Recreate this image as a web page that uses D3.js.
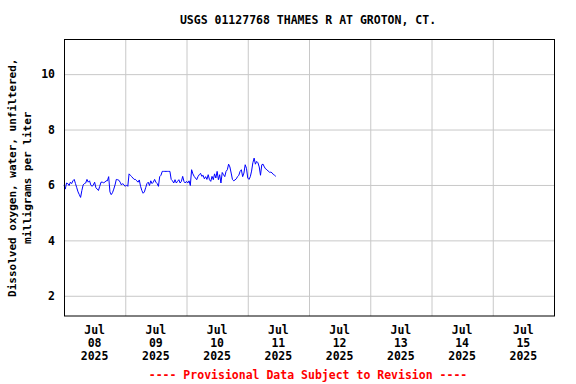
<!DOCTYPE html>
<html>
<head>
<meta charset="utf-8">
<script src="https://cdn.jsdelivr.net/npm/d3@7"></script>
<style>
  body { margin: 0; background: #fff; }
  text { font-family: "DejaVu Sans Mono", "Liberation Mono", monospace; font-weight: bold; }
</style>
</head>
<body>
<div id="chart"></div>
<script>
// data: dissolved oxygen (mg/L), every 30 min starting Jul 8 2025 00:00
const startTime = Date.UTC(2025, 6, 8, 0, 0);
const stepMinutes = 30;
const doValues = [
  6.00, 5.85, 6.07, 6.05, 5.98, 6.10, 6.05, 6.15, 6.20, 6.05,
  5.90, 5.75, 5.65, 5.55, 5.80, 6.00, 6.05, 6.07, 6.20, 6.10,
  6.15, 6.00, 5.95, 6.00, 6.10, 5.90, 5.85, 5.80, 5.95, 6.10,
  6.10, 6.08, 6.10, 6.15, 6.15, 6.30, 5.75, 5.65, 5.72, 5.85,
  6.00, 6.20, 6.19, 6.17, 6.10, 6.00, 6.05, 6.00, 5.95, 6.00,
  5.95, 6.40, 6.35, 6.30, 6.25, 6.20, 6.20, 6.15, 6.10, 6.18,
  5.95, 5.80, 5.70, 5.75, 5.90, 6.05, 6.10, 5.98, 6.15, 6.05,
  6.10, 6.20, 6.10, 6.05, 5.95, 6.30, 6.35, 6.49, 6.49, 6.49,
  6.49, 6.49, 6.49, 6.49, 6.20, 6.15, 6.07, 6.19, 6.07, 6.13,
  6.19, 6.07, 6.13, 6.31, 6.13, 6.07, 6.13, 6.07, 6.15, 5.98,
  6.55, 6.40, 6.31, 6.25, 6.19, 6.30, 6.37, 6.42, 6.31, 6.35,
  6.22, 6.30, 6.20, 6.37, 6.19, 6.13, 6.31, 6.19, 6.40, 6.25,
  6.49, 6.19, 6.37, 6.07, 6.45, 6.37, 6.30, 6.49, 6.55, 6.75,
  6.65, 6.43, 6.20, 6.15, 6.18, 6.22, 6.30, 6.35, 6.49, 6.55,
  6.30, 6.43, 6.73, 6.60, 6.25, 6.20, 6.30, 6.50, 6.80, 6.97,
  6.75, 6.85, 6.80, 6.65, 6.35, 6.73, 6.75, 6.65, 6.58, 6.55,
  6.50, 6.46, 6.46, 6.44, 6.38, 6.35, 6.31
];

const yTicks = [2, 4, 6, 8, 10];
const xTickLabels = [
  ["Jul", "08", "2025"], ["Jul", "09", "2025"], ["Jul", "10", "2025"], ["Jul", "11", "2025"],
  ["Jul", "12", "2025"], ["Jul", "13", "2025"], ["Jul", "14", "2025"], ["Jul", "15", "2025"]
];
const titleText = "USGS 01127768 THAMES R AT GROTON, CT.";
const yLabelLines = ["Dissolved oxygen, water, unfiltered,", "milligrams per liter"];
const footerText = "---- Provisional Data Subject to Revision ----";

// layout
const W = 576, H = 384;
const margin = { top: 39.5, right: 22, bottom: 68, left: 64 };
const width = W - margin.left - margin.right;
const height = H - margin.top - margin.bottom;

const svg = d3.select("#chart").append("svg")
  .attr("width", W).attr("height", H);

const g = svg.append("g")
  .attr("transform", `translate(${margin.left},${margin.top})`);

const x = d3.scaleUtc()
  .domain([new Date(Date.UTC(2025, 6, 8)), new Date(Date.UTC(2025, 6, 16))])
  .range([0, width]);

const y = d3.scaleLinear()
  .domain([1.27, 11.25])
  .range([height, 0]);

const data = doValues.map((v, i) => ({
  t: new Date(startTime + i * stepMinutes * 60000),
  v: v
}));

// vertical grid at midnight
g.append("g")
  .attr("class", "xgrid")
  .attr("transform", `translate(0,${height})`)
  .call(d3.axisBottom(x).ticks(d3.utcDay.every(1)).tickSize(-height).tickFormat(""))
  .call(a => a.select(".domain").remove())
  .call(a => a.selectAll("line").attr("stroke", "#c8c8c8"));

// horizontal grid + labels
g.append("g")
  .attr("class", "yaxis")
  .call(d3.axisLeft(y).tickValues(yTicks).tickSize(-width).tickPadding(9))
  .call(a => a.select(".domain").remove())
  .call(a => a.selectAll("line").attr("stroke", "#c8c8c8"))
  .call(a => a.selectAll("text").attr("font-size", 11.5).attr("fill", "#000")
    .style("font-family", "'DejaVu Sans Mono', monospace"));

// x labels at noon of each day
const noonDates = xTickLabels.map((d, i) => new Date(Date.UTC(2025, 6, 8 + i, 12)));
const xLab = g.append("g")
  .attr("transform", `translate(0,${height})`)
  .selectAll("text")
  .data(xTickLabels)
  .enter()
  .append("text")
  .attr("x", (d, i) => x(noonDates[i]))
  .attr("y", 18)
  .attr("text-anchor", "middle")
  .attr("font-size", 11.5)
  .attr("fill", "#000");

xLab.selectAll("tspan")
  .data(d => d)
  .enter()
  .append("tspan")
  .attr("x", function () { return this.parentNode.getAttribute("x"); })
  .attr("dy", (d, i) => i === 0 ? 0 : 12.8)
  .text(d => d);

// data line
const line = d3.line()
  .x(d => x(d.t))
  .y(d => y(d.v));

g.append("path")
  .datum(data)
  .attr("d", line)
  .attr("fill", "none")
  .attr("stroke", "#0000ff")
  .attr("stroke-width", 1);

// frame
g.append("rect")
  .attr("x", 0.5).attr("y", 0)
  .attr("width", width).attr("height", height)
  .attr("fill", "none")
  .attr("stroke", "#000")
  .attr("stroke-width", 1);

// title
svg.append("text")
  .attr("x", 308)
  .attr("y", 24)
  .attr("text-anchor", "middle")
  .attr("font-size", 11.5)
  .text(titleText);

// y axis label
const yl = svg.append("text")
  .attr("transform", `translate(16,${margin.top + height / 2}) rotate(-90)`)
  .attr("text-anchor", "middle")
  .attr("font-size", 11);

yl.selectAll("tspan")
  .data(yLabelLines)
  .enter()
  .append("tspan")
  .attr("x", 0)
  .attr("dy", (d, i) => i === 0 ? 0 : 15)
  .text(d => d);

// footer
svg.append("text")
  .attr("x", 308)
  .attr("y", 379)
  .attr("text-anchor", "middle")
  .attr("font-size", 11.5)
  .attr("fill", "#ff0000")
  .text(footerText);
</script>
</body>
</html>
